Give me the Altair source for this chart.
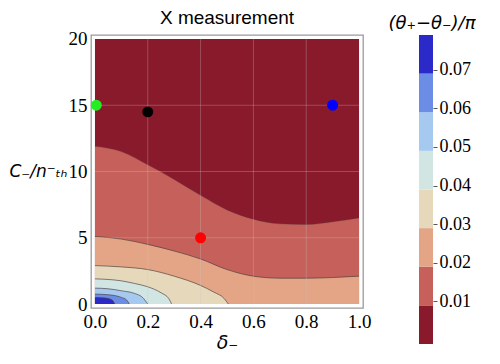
import altair as alt
import pandas as pd

# ---- data ----
levels = [0.01, 0.02, 0.03, 0.04, 0.05, 0.06, 0.07]
band_names = ["<0.01", "0.01-0.02", "0.02-0.03", "0.03-0.04", "0.04-0.05", "0.05-0.06", "0.06-0.07", ">0.07"]
band_colors = ["#881a2c", "#c6605a", "#e3a585", "#e6d9bb", "#d1e5e2", "#a5c9ef", "#6b8de6", "#2b2ac8"]

# contour boundary curves (delta_-, C_-/n_th)
c01_x = [0, 0.1, 0.2, 0.3, 0.4, 0.5, 0.6, 0.7, 0.8, 0.9, 1.0]
c01_y = [11.9, 11.5, 10.5, 9.4, 8.2, 7.1, 6.4, 6.05, 6.0, 6.2, 6.5]
c02_x = [0, 0.1, 0.2, 0.3, 0.4, 0.5, 0.6, 0.7, 0.8, 0.9, 1.0]
c02_y = [5.1, 4.9, 4.5, 4.0, 3.4, 2.6, 2.1, 1.95, 1.95, 2.0, 2.1]
c03_x = [0, 0.1, 0.2, 0.3, 0.4, 0.45, 0.49, 0.505]
c03_y = [2.9, 2.8, 2.6, 2.1, 1.4, 0.9, 0.4, 0.0]
c04_x = [0, 0.1, 0.15, 0.2, 0.25, 0.28, 0.29]
c04_y = [1.9, 1.75, 1.55, 1.3, 0.85, 0.4, 0.0]
c05_x = [0, 0.05, 0.1, 0.15, 0.18, 0.2]
c05_y = [1.2, 1.15, 1.0, 0.8, 0.5, 0.0]
c06_x = [0, 0.05, 0.1, 0.12, 0.13]
c06_y = [0.75, 0.7, 0.5, 0.3, 0.0]
c07_x = [0, 0.04, 0.065, 0.075]
c07_y = [0.5, 0.45, 0.3, 0.0]
curves = [(c01_x, c01_y), (c02_x, c02_y), (c03_x, c03_y), (c04_x, c04_y),
          (c05_x, c05_y), (c06_x, c06_y), (c07_x, c07_y)]

x_range = [0.0, 1.0]
y_range = [0.0, 20.0]
x_ticks = [0.0, 0.2, 0.4, 0.6, 0.8, 1.0]
y_ticks = [0, 5, 10, 15, 20]
grid_x = [0.2, 0.4, 0.6, 0.8]
grid_y = [5, 10, 15]

pt_x = [0.005, 0.2, 0.9, 0.4]
pt_y = [15.0, 14.5, 15.0, 5.0]
pt_name = ["green", "black", "blue", "red"]
pt_colors = ["#22ee22", "#000000", "#0000ff", "#ff0000"]

cb_lo = [0.0, 0.01, 0.02, 0.03, 0.04, 0.05, 0.06, 0.07]
cb_hi = [0.01, 0.02, 0.03, 0.04, 0.05, 0.06, 0.07, 0.08]

# ---- chart ----
serif = "Liberation Serif, Times New Roman, Times, serif"
sans = "Liberation Sans, Arial, Helvetica, sans-serif"
xs = alt.Scale(domain=[-0.015, 1.015], nice=False, zero=False)
ys = alt.Scale(domain=[-0.3, 20.3], nice=False, zero=False)
band_scale = alt.Scale(domain=band_names, range=band_colors)

xa = alt.Axis(values=x_ticks, format=".1f", title="δ₋", grid=False, domain=False, ticks=False,
              labelFont=serif, labelFontSize=19, labelColor="black", labelPadding=4,
              titleFont="DejaVu Sans", titleFontStyle="italic", titleFontSize=19,
              titleFontWeight="normal", titlePadding=2, titleColor="black")
ya = alt.Axis(values=y_ticks, format="d", title="C₋/n⁻ₜₕ", grid=False, domain=False, ticks=False,
              labelFont=serif, labelFontSize=19, labelColor="black", labelPadding=4,
              titleAngle=0, titleAlign="right", titleBaseline="middle", titleFont="DejaVu Sans",
              titleFontStyle="italic", titleFontSize=17, titleFontWeight="normal",
              titlePadding=1, titleColor="black")

bg_df = pd.DataFrame({"x0": [x_range[0]], "x1": [x_range[1]], "y0": [y_range[0]], "y1": [y_range[1]],
                      "band": [band_names[0]]})
bg = alt.Chart(bg_df).mark_rect().encode(
    x=alt.X("x0:Q", scale=xs, axis=xa, title="δ₋"),
    x2="x1:Q",
    y=alt.Y("y0:Q", scale=ys, axis=ya, title="C₋/n⁻ₜₕ"),
    y2="y1:Q",
    color=alt.Color("band:N", scale=band_scale, legend=None),
)

layers = [bg]
for i, (cx, cy) in enumerate(curves):
    df = pd.DataFrame({"x": cx, "y": cy, "band": band_names[i + 1]})
    layers.append(alt.Chart(df).mark_area(interpolate="monotone").encode(
        x=alt.X("x:Q", scale=xs, axis=xa, title="δ₋"),
        y=alt.Y("y:Q", scale=ys, axis=ya, stack=None, title="C₋/n⁻ₜₕ"),
        y2=alt.datum(0),
        color=alt.Color("band:N", scale=band_scale, legend=None),
    ))
for i, (cx, cy) in enumerate(curves):
    df = pd.DataFrame({"x": cx, "y": cy})
    layers.append(alt.Chart(df).mark_line(interpolate="monotone", color="#4a3a3a",
                                          strokeWidth=1, opacity=0.3 if i == 0 else 0.65).encode(
        x=alt.X("x:Q", scale=xs, axis=xa, title="δ₋"),
        y=alt.Y("y:Q", scale=ys, axis=ya, title="C₋/n⁻ₜₕ"),
    ))

gx = pd.DataFrame({"g": grid_x})
gy = pd.DataFrame({"g": grid_y})
layers.append(alt.Chart(gx).mark_rule(color="#c8c8c8", opacity=0.3, strokeWidth=1).encode(
    x=alt.X("g:Q", scale=xs, axis=xa, title="δ₋"), y=alt.datum(y_range[0]), y2=alt.datum(y_range[1])))
layers.append(alt.Chart(gy).mark_rule(color="#c8c8c8", opacity=0.3, strokeWidth=1).encode(
    y=alt.Y("g:Q", scale=ys, axis=ya, title="C₋/n⁻ₜₕ"), x=alt.datum(x_range[0]), x2=alt.datum(x_range[1])))

pts = pd.DataFrame({"x": pt_x, "y": pt_y, "name": pt_name})
layers.append(alt.Chart(pts).mark_circle(size=120, opacity=1).encode(
    x=alt.X("x:Q", scale=xs, axis=xa, title="δ₋"),
    y=alt.Y("y:Q", scale=ys, axis=ya, title="C₋/n⁻ₜₕ"),
    color=alt.Color("name:N", scale=alt.Scale(domain=pt_name, range=pt_colors), legend=None),
))

main = alt.layer(*layers).resolve_scale(color="independent").properties(
    width=272, height=273,
    title=alt.TitleParams("X measurement", font=sans, fontSize=19, fontWeight="normal",
                          color="black", offset=2),
    view=alt.ViewBackground(stroke="#9a9a9a", strokeWidth=1.3),
)

cb_df = pd.DataFrame({"lo": cb_lo, "hi": cb_hi, "band": band_names})
cbar = alt.Chart(cb_df).mark_rect().encode(
    x=alt.value(0), x2=alt.value(14),
    y=alt.Y("lo:Q", scale=alt.Scale(domain=[0, 0.08], nice=False),
            axis=alt.Axis(orient="right", values=levels, format=".2f", title=None, grid=False,
                          domain=False, tickSize=4, tickColor="#555555", tickOffset=-4,
                          labelFont=serif, labelFontSize=18, labelColor="black", labelPadding=2)),
    y2="hi:Q",
    color=alt.Color("band:N", scale=band_scale, legend=None),
).properties(
    width=14, height=309,
    title=alt.TitleParams("(θ₊−θ₋)/π", font="DejaVu Sans", fontStyle="italic", fontSize=18,
                          fontWeight="normal", color="black", offset=2, dx=6),
    view=alt.ViewBackground(stroke=None),
)

chart = alt.hconcat(main, cbar, spacing=16).properties(
    padding={"left": 0, "top": 0, "right": 0, "bottom": 0}
).configure_view(stroke=None).configure_axis(labelFont=serif)

chart.save("out.html", embed_options={"renderer": "svg", "actions": False})
